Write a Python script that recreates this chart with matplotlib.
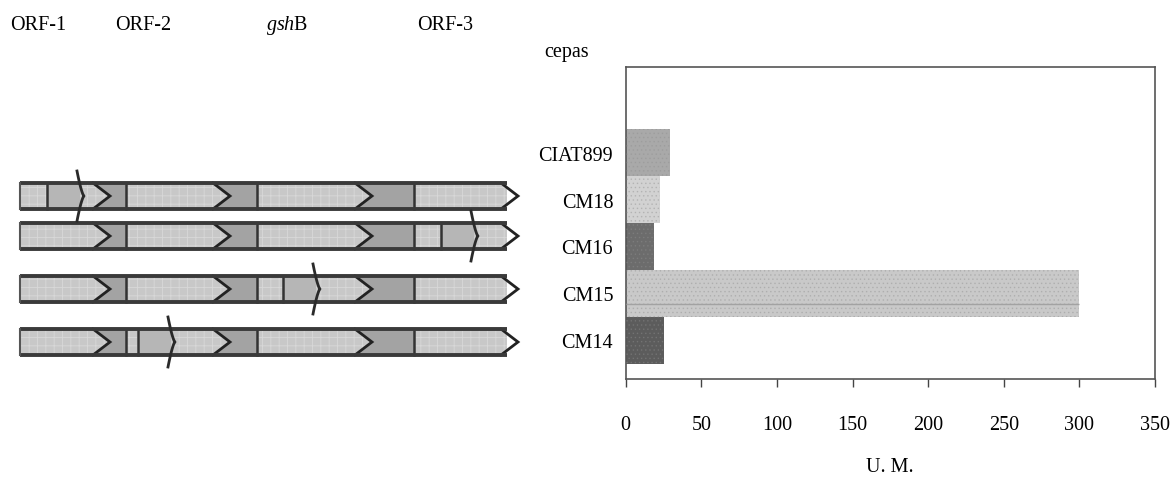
import matplotlib
matplotlib.use("Agg")
import matplotlib.pyplot as plt
from matplotlib.patches import Polygon, Rectangle
import numpy as np

# ---------------- data ----------------
strains = ["CIAT899", "CM18", "CM16", "CM15", "CM14"]
activity = [29, 23, 19, 300, 25]
bar_colors = ["#a9a9a9", "#d2d2d2", "#6c6c6c", "#c9c9c9", "#5c5c5c"]
xticks = [0, 50, 100, 150, 200, 250, 300, 350]

genes = ["ORF-1", "ORF-2", "gshB", "ORF-3"]
gene_labels = ["ORF-1", "ORF-2", r"$\mathit{gsh}$B", "ORF-3"]
gene_start = [0, 106, 237, 394]
gene_end = [90, 210, 352, 498]
mutants = ["CM18", "CM16", "CM15", "CM14"]
insertion_site = [27, 421, 263, 118]
insertion_len = 37

# ---------------- style ----------------
plt.rcParams["font.family"] = ["Liberation Serif", "DejaVu Serif"]
plt.rcParams["mathtext.fontset"] = "custom"
plt.rcParams["mathtext.rm"] = "Liberation Serif"
plt.rcParams["mathtext.it"] = "Liberation Serif:italic"
plt.rcParams["hatch.linewidth"] = 0.6
FS = 14.5

W, H = 1175, 481
fig = plt.figure(figsize=(W / 100, H / 100), dpi=100)

# ---------------- bar chart ----------------
ax = fig.add_axes([625.7 / W, (H - 380) / H, (1155 - 625.7) / W, (380 - 68) / H])
pos = np.arange(len(strains))[::-1]
ax.barh(pos, activity, height=1.0, color=bar_colors, edgecolor="none", zorder=2)
ax.barh(pos, activity, height=1.0, fill=False, hatch="....",
        edgecolor="#8f8f8f", linewidth=0, zorder=3, alpha=0.35)
i15 = strains.index("CM15")
ax.hlines(pos[i15] - 0.22, 0, activity[i15], color="#a2a2a2", lw=1.0, zorder=4)
ax.set_xlim(0, 350)
ax.set_ylim(-0.83, 5.83)
ax.set_xticks(xticks)
ax.set_xticklabels([str(t) for t in xticks], fontsize=FS)
ax.set_yticks(pos)
ax.set_yticklabels(strains, fontsize=FS)
ax.tick_params(axis="x", direction="out", length=6, width=1, color="#444444", pad=20)
ax.tick_params(axis="y", length=0, pad=9)
for s in ax.spines.values():
    s.set_color("#555555")
    s.set_linewidth(1.2)

fig.text(890 / W, 1 - 468 / H, "U. M.", ha="center", va="center", fontsize=FS)
fig.text(567 / W, 1 - 57 / H, "cepas", ha="center", va="baseline", fontsize=FS)

# ---------------- gene map ----------------
axg = fig.add_axes([0, 0, 540 / W, 1])
axg.set_xlim(-20, 520)
axg.set_ylim(H, 0)
axg.axis("off")

LIGHT = "#c8c8c8"
DARK = "#a3a3a3"
MID = "#b6b6b6"
LINE = "#333333"
row_y = [197, 237, 290, 343]
h = 13
chev = 17
body_end = gene_end[-1] - 11

label_x = [18, 123, 267, 425]
for lx, lab in zip(label_x, gene_labels):
    axg.text(lx, 30, lab, ha="center", va="baseline", fontsize=FS)

for yc, site in zip(row_y, insertion_site):
    axg.add_patch(Rectangle((gene_start[0], yc - h), body_end - gene_start[0], 2 * h,
                            facecolor=LIGHT, edgecolor="none", zorder=1))
    axg.add_patch(Rectangle((gene_start[0], yc - h), body_end - gene_start[0], 2 * h,
                            fill=False, hatch="++", edgecolor="#d8d8d8", linewidth=0, zorder=1.5))
    for i in range(len(genes) - 1):
        e, nxt = gene_end[i], gene_start[i + 1]
        poly = [(e - chev, yc - h), (e, yc), (e - chev, yc + h), (nxt, yc + h), (nxt, yc - h)]
        axg.add_patch(Polygon(poly, closed=True, facecolor=DARK, edgecolor="none", zorder=2))
    # inserted element
    m = site + insertion_len
    axg.add_patch(Rectangle((site, yc - h), insertion_len - 4, 2 * h,
                            facecolor=MID, edgecolor="none", zorder=2))
    # gene starts
    for i in range(1, len(genes)):
        axg.plot([gene_start[i]] * 2, [yc - h, yc + h], color=LINE, lw=1.8, zorder=4)
    axg.plot([site] * 2, [yc - h, yc + h], color=LINE, lw=1.8, zorder=4)
    # chevrons
    for e in gene_end:
        axg.plot([e - chev, e, e - chev], [yc - h, yc, yc + h], color="#222222", lw=2.0,
                 solid_joinstyle="miter", zorder=5)
    # outline
    axg.plot([gene_start[0], body_end], [yc - h, yc - h], color="#3a3a3a", lw=2.8, zorder=6,
             solid_capstyle="butt")
    axg.plot([gene_start[0], body_end], [yc + h, yc + h], color="#3a3a3a", lw=2.8, zorder=6,
             solid_capstyle="butt")
    axg.plot([gene_start[0], gene_start[0]], [yc - h, yc + h], color="#555555", lw=1.5, zorder=6)
    # insertion marker (tall chevron)
    t = np.linspace(-1, 1, 41)
    mx = m - 7 * np.abs(t) ** 0.7
    my = yc + 25 * t
    axg.plot(mx, my, color="#2a2a2a", lw=2.0, zorder=7)

fig.savefig("out.png", dpi=100)
